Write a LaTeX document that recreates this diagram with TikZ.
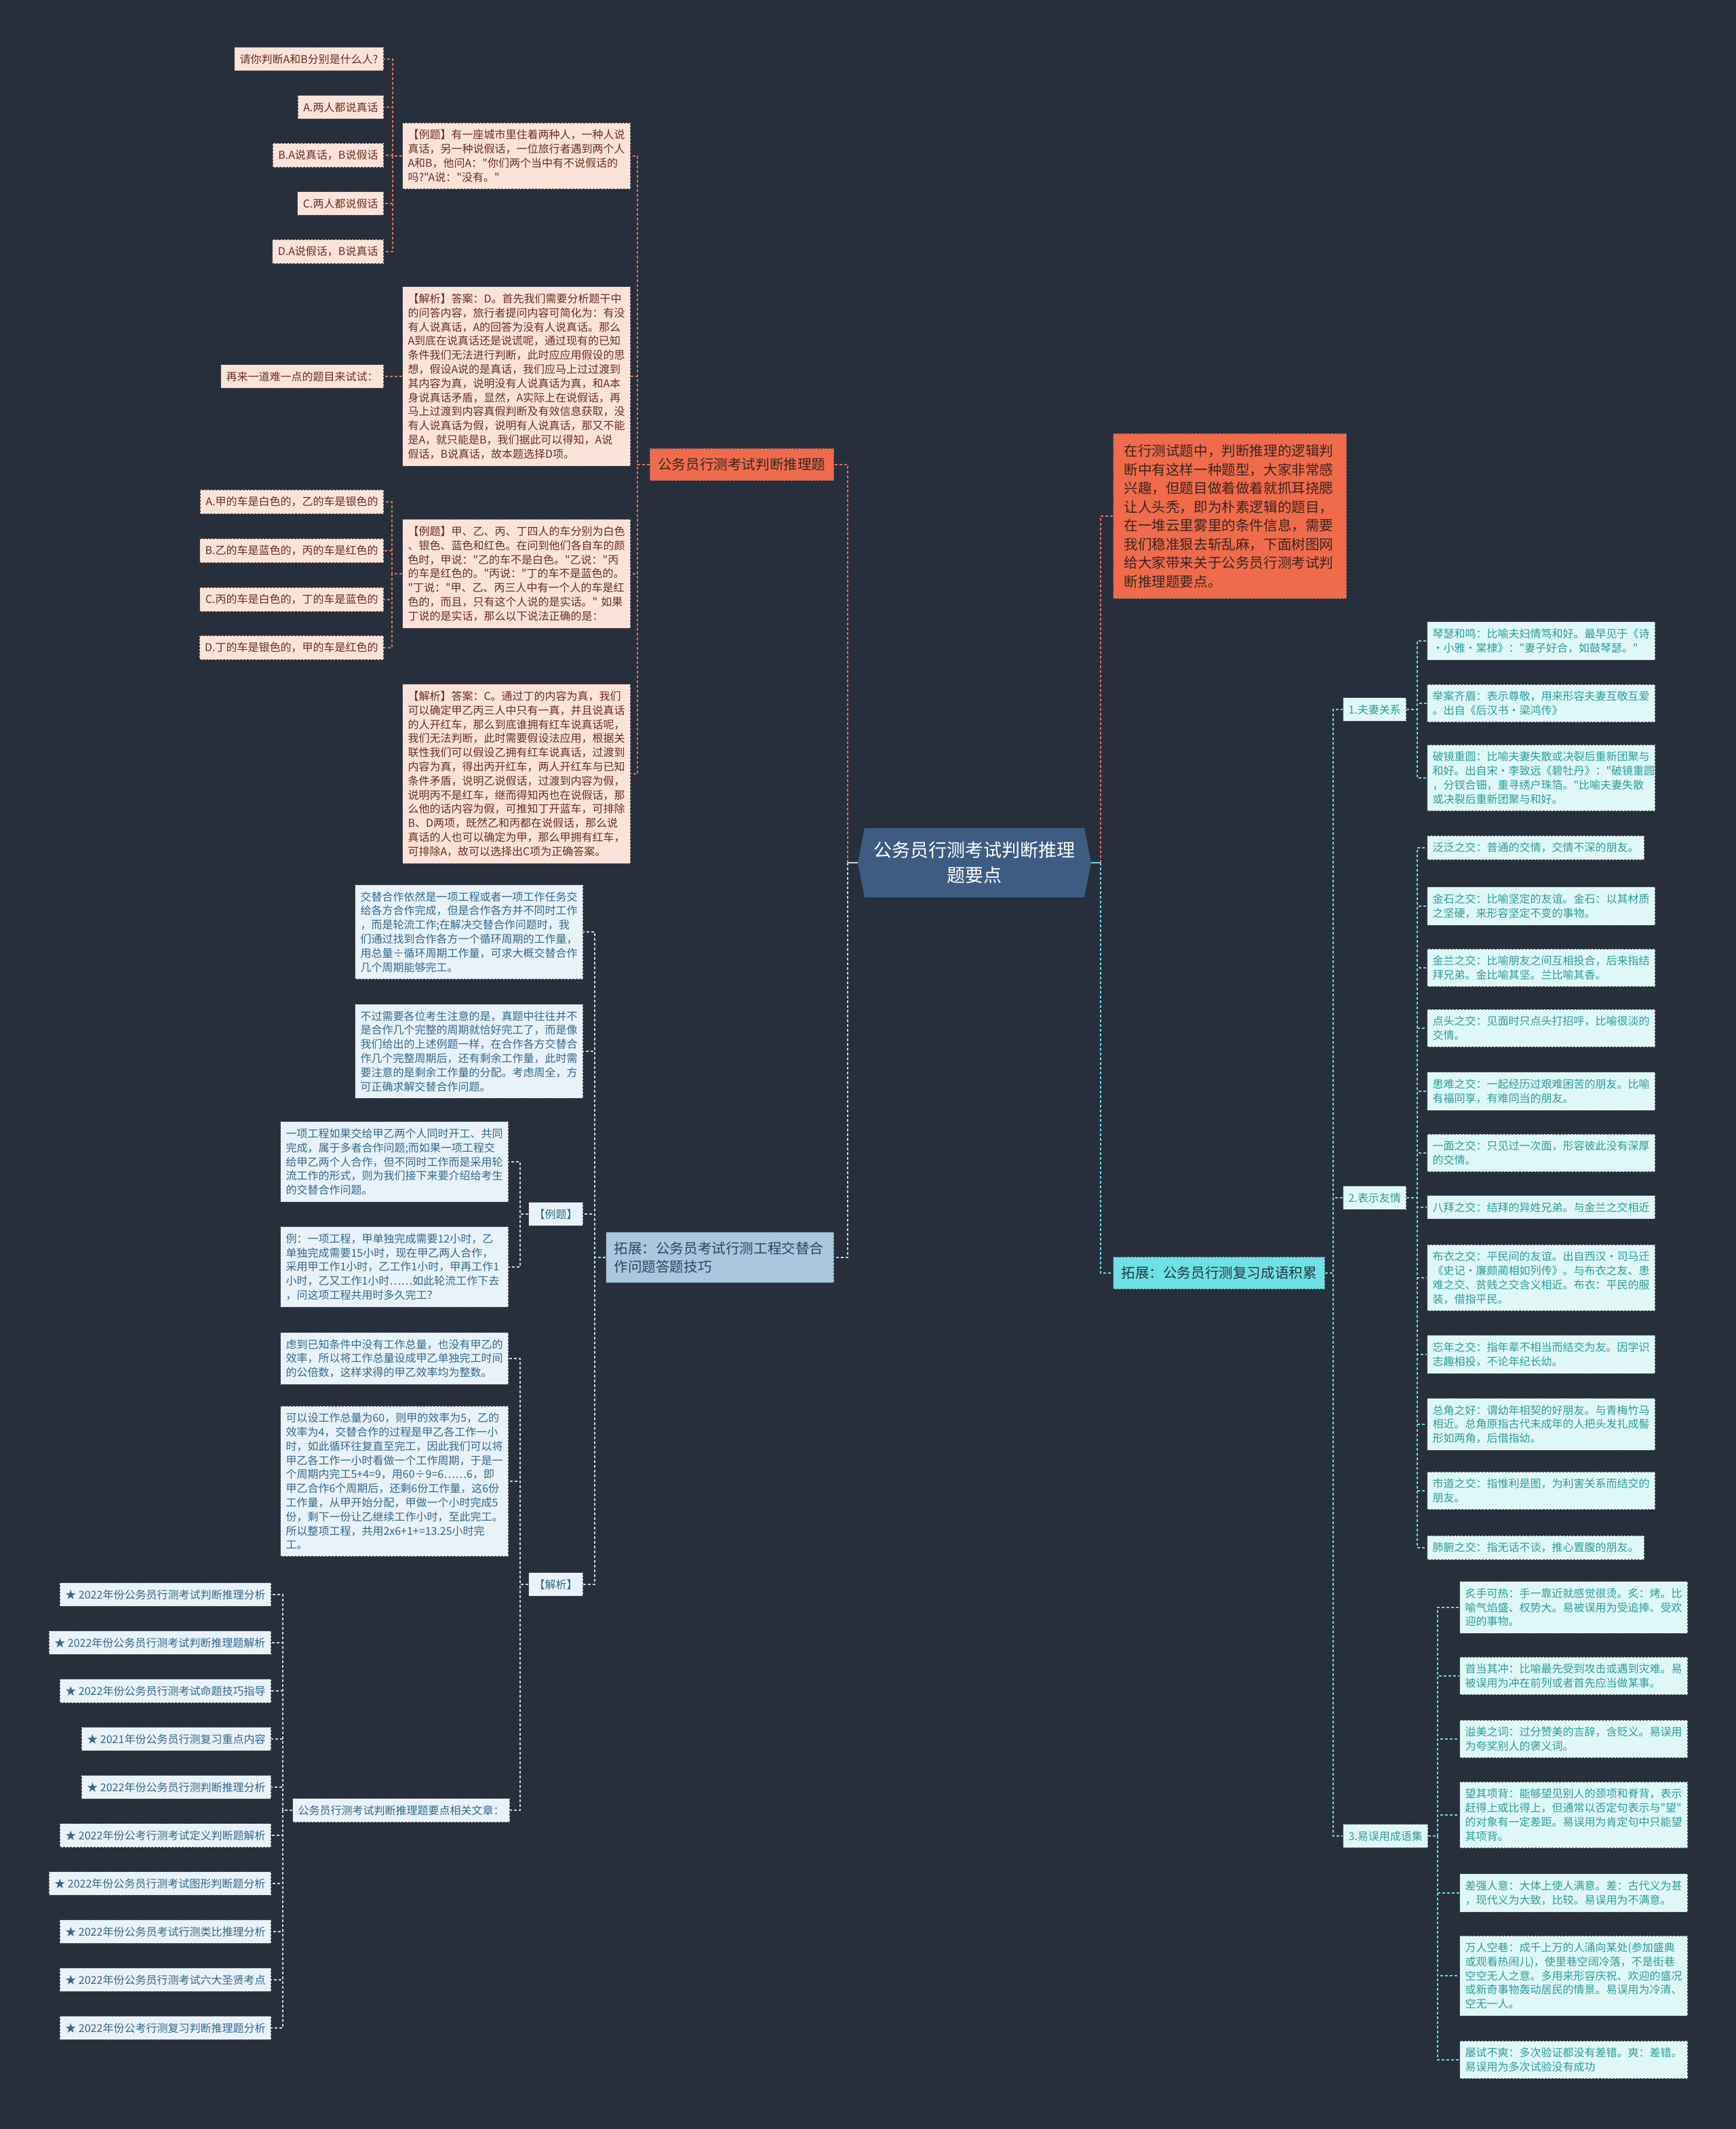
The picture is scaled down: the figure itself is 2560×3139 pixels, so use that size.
\documentclass[tikz,border=0pt]{standalone}
\usepackage{fontspec}
\setmainfont{Noto Sans CJK SC}[Ligatures=TeXOff]
\usetikzlibrary{shapes.symbols}
\definecolor{bg}{HTML}{272F3D}
\definecolor{pinkfill}{HTML}{FCE3D9}
\definecolor{pinktext}{HTML}{6B2E1F}
\definecolor{orangefill}{HTML}{EF6B4C}
\definecolor{orangeline}{HTML}{E3714F}
\definecolor{introtext}{HTML}{3A2520}
\definecolor{bluefill}{HTML}{E9F2F8}
\definecolor{bluetext}{HTML}{2F6990}
\definecolor{btwofill}{HTML}{A9C7DF}
\definecolor{btwotext}{HTML}{2A4660}
\definecolor{blueline}{HTML}{C5D8E8}
\definecolor{tealfill}{HTML}{DFF7F7}
\definecolor{tealtext}{HTML}{2A9D9B}
\definecolor{cyanfill}{HTML}{6FE0E4}
\definecolor{cyantext}{HTML}{20393E}
\definecolor{cyanline}{HTML}{6ADCE3}
\definecolor{boxline}{HTML}{505050}
\definecolor{rootfill}{HTML}{3E5C81}
\begin{document}
\begin{tikzpicture}[x=0.5pt,y=-0.5pt,
  box/.style={draw=boxline, dash pattern=on 1.5pt off 1pt, line width=0.5pt,
    inner xsep=4pt, inner ysep=5pt, font=\fontsize{8}{10.4}\selectfont, align=left},
  pinkbox/.style={box, fill=pinkfill, text=pinktext},
  bluebox/.style={box, fill=bluefill, text=bluetext},
  tealbox/.style={box, fill=tealfill, text=tealtext},
  wide/.style={text width=160pt},
  bignode/.style={draw=boxline, dash pattern=on 1.5pt off 1pt, line width=0.5pt,
    inner xsep=6pt, inner ysep=7pt, font=\fontsize{10.3}{13.75}\selectfont, align=left},
  oline/.style={draw=orangeline, line width=1pt, dash pattern=on 2pt off 1.5pt},
  bline/.style={draw=blueline, line width=1pt, dash pattern=on 2pt off 1.5pt},
  cline/.style={draw=cyanline, line width=1pt, dash pattern=on 2pt off 1.5pt},
  lsolid/.style={draw=blueline, line width=1pt},
  csolid/.style={draw=cyanline, line width=1pt}
]
\useasboundingbox (0,0) rectangle (2560,3139);
\fill[bg] (0,0) rectangle (2560,3139);

% root
\node[signal, signal to=west and east, signal pointer angle=158, fill=rootfill,
  minimum width=172pt, minimum height=51pt, align=center, text=white,
  font=\fontsize{13.5}{18.4}\selectfont] (root) at (1437,1272)
  {公务员行测考试判断推理\\题要点};

% ===== branch 1 =====
\node[bignode, fill=orangefill, text=introtext, anchor=east] (b1) at (1230,685) {公务员行测考试判断推理题};

\node[pinkbox, wide, anchor=east] (c1) at (930,230) {【例题】有一座城市里住着两种人，一种人说\\真话，另一种说假话，一位旅行者遇到两个人\\A和B，他问A："你们两个当中有不说假话的\\吗?"A说："没有。"};
\node[pinkbox, wide, anchor=east] (c2) at (930,555) {【解析】答案：D。首先我们需要分析题干中\\的问答内容，旅行者提问内容可简化为：有没\\有人说真话，A的回答为没有人说真话。那么\\A到底在说真话还是说谎呢，通过现有的已知\\条件我们无法进行判断，此时应应用假设的思\\想，假设A说的是真话，我们应马上过过渡到\\其内容为真，说明没有人说真话为真，和A本\\身说真话矛盾，显然，A实际上在说假话，再\\马上过渡到内容真假判断及有效信息获取，没\\有人说真话为假，说明有人说真话，那又不能\\是A，就只能是B，我们据此可以得知，A说\\假话，B说真话，故本题选择D项。};
\node[pinkbox, wide, anchor=east] (c3) at (930,846) {【例题】甲、乙、丙、丁四人的车分别为白色\\、银色、蓝色和红色。在问到他们各自车的颜\\色时，甲说："乙的车不是白色。"乙说："丙\\的车是红色的。"丙说："丁的车不是蓝色的。\\"丁说："甲、乙、丙三人中有一个人的车是红\\色的，而且，只有这个人说的是实话。"~如果\\丁说的是实话，那么以下说法正确的是：};
\node[pinkbox, wide, anchor=east] (c4) at (930,1141) {【解析】答案：C。通过丁的内容为真，我们\\可以确定甲乙丙三人中只有一真，并且说真话\\的人开红车，那么到底谁拥有红车说真话呢，\\我们无法判断，此时需要假设法应用，根据关\\联性我们可以假设乙拥有红车说真话，过渡到\\内容为真，得出丙开红车，两人开红车与已知\\条件矛盾，说明乙说假话，过渡到内容为假，\\说明丙不是红车，继而得知丙也在说假话，那\\么他的话内容为假，可推知丁开蓝车，可排除\\B、D两项，既然乙和丙都在说假话，那么说\\真话的人也可以确定为甲，那么甲拥有红车，\\可排除A，故可以选择出C项为正确答案。};

\node[pinkbox, anchor=east] (q1) at (566,87) {请你判断A和B分别是什么人?};
\node[pinkbox, anchor=east] (q2) at (566,158) {A.两人都说真话};
\node[pinkbox, anchor=east] (q3) at (566,229) {B.A说真话，B说假话};
\node[pinkbox, anchor=east] (q4) at (566,300) {C.两人都说假话};
\node[pinkbox, anchor=east] (q5) at (566,371) {D.A说假话，B说真话};
\node[pinkbox, anchor=east] (r1) at (566,555) {再来一道难一点的题目来试试：};
\node[pinkbox, anchor=east] (p1) at (566,740) {A.甲的车是白色的，乙的车是银色的};
\node[pinkbox, anchor=east] (p2) at (566,812) {B.乙的车是蓝色的，丙的车是红色的};
\node[pinkbox, anchor=east] (p3) at (566,884) {C.丙的车是白色的，丁的车是蓝色的};
\node[pinkbox, anchor=east] (p4) at (566,955) {D.丁的车是银色的，甲的车是红色的};

\draw[lsolid] (root.west) -- ++(-15,0);
\draw[oline] (root.west) ++(-15,0) |- (b1.east);
\foreach \c in {c1,c2,c3,c4} \draw[oline] (b1.west) -- ++(-18,0) |- (\c.east);
\foreach \c in {q1,q2,q3,q4,q5} \draw[oline] (c1.west) -- ++(-14,0) |- (\c.east);
\draw[oline] (c2.west) -- (r1.east);
\foreach \c in {p1,p2,p3,p4} \draw[oline] (c3.west) -- ++(-15,0) |- (\c.east);

% ===== branch 2 =====
\node[bignode, fill=btwofill, text=btwotext, text width=156pt, anchor=east] (b2) at (1230,1854) {拓展：公务员考试行测工程交替合\\作问题答题技巧};

\node[bluebox, wide, anchor=east] (d1) at (860,1374) {交替合作依然是一项工程或者一项工作任务交\\给各方合作完成，但是合作各方并不同时工作\\，而是轮流工作;在解决交替合作问题时，我\\们通过找到合作各方一个循环周期的工作量，\\用总量÷循环周期工作量，可求大概交替合作\\几个周期能够完工。};
\node[bluebox, wide, anchor=east] (d2) at (860,1550) {不过需要各位考生注意的是，真题中往往并不\\是合作几个完整的周期就恰好完工了，而是像\\我们给出的上述例题一样，在合作各方交替合\\作几个完整周期后，还有剩余工作量，此时需\\要注意的是剩余工作量的分配。考虑周全，方\\可正确求解交替合作问题。};
\node[bluebox, anchor=east] (dex) at (860,1790) {【例题】};
\node[bluebox, anchor=east] (djx) at (860,2336) {【解析】};

\node[bluebox, wide, anchor=east] (e1) at (750,1713) {一项工程如果交给甲乙两个人同时开工、共同\\完成，属于多者合作问题;而如果一项工程交\\给甲乙两个人合作，但不同时工作而是采用轮\\流工作的形式，则为我们接下来要介绍给考生\\的交替合作问题。};
\node[bluebox, wide, anchor=east] (e2) at (750,1868) {例：一项工程，甲单独完成需要12小时，乙\\单独完成需要15小时，现在甲乙两人合作，\\采用甲工作1小时，乙工作1小时，甲再工作1\\小时，乙又工作1小时……如此轮流工作下去\\，问这项工程共用时多久完工？};

\node[bluebox, wide, anchor=east] (f1) at (750,2003) {虑到已知条件中没有工作总量，也没有甲乙的\\效率，所以将工作总量设成甲乙单独完工时间\\的公倍数，这样求得的甲乙效率均为整数。};
\node[bluebox, wide, anchor=east] (f2) at (750,2184) {可以设工作总量为60，则甲的效率为5，乙的\\效率为4，交替合作的过程是甲乙各工作一小\\时，如此循环往复直至完工，因此我们可以将\\甲乙各工作一小时看做一个工作周期，于是一\\个周期内完工5+4=9，用60÷9=6……6，即\\甲乙合作6个周期后，还剩6份工作量，这6份\\工作量，从甲开始分配，甲做一个小时完成5\\份，剩下一份让乙继续工作小时，至此完工。\\所以整项工程，共用2x6+1+=13.25小时完\\工。};
\node[bluebox, anchor=east] (f3) at (752,2669) {公务员行测考试判断推理题要点相关文章：};

\node[bluebox, anchor=east] (s1) at (400,2351) {★ 2022年份公务员行测考试判断推理分析};
\node[bluebox, anchor=east] (s2) at (400,2422) {★ 2022年份公务员行测考试判断推理题解析};
\node[bluebox, anchor=east] (s3) at (400,2493) {★ 2022年份公务员行测考试命题技巧指导};
\node[bluebox, anchor=east] (s4) at (400,2564) {★ 2021年份公务员行测复习重点内容};
\node[bluebox, anchor=east] (s5) at (400,2635) {★ 2022年份公务员行测判断推理分析};
\node[bluebox, anchor=east] (s6) at (400,2706) {★ 2022年份公考行测考试定义判断题解析};
\node[bluebox, anchor=east] (s7) at (400,2777) {★ 2022年份公务员行测考试图形判断题分析};
\node[bluebox, anchor=east] (s8) at (400,2848) {★ 2022年份公务员考试行测类比推理分析};
\node[bluebox, anchor=east] (s9) at (400,2919) {★ 2022年份公务员行测考试六大圣贤考点};
\node[bluebox, anchor=east] (s10) at (400,2990) {★ 2022年份公考行测复习判断推理题分析};

\draw[bline] (root.west) ++(-15,0) |- (b2.east);
\foreach \c in {d1,d2,dex,djx} \draw[bline] (b2.west) -- ++(-16,0) |- (\c.east);
\foreach \c in {e1,e2} \draw[bline] (dex.west) -- ++(-12,0) |- (\c.east);
\foreach \c in {f1,f2,f3} \draw[bline] (djx.west) -- ++(-12,0) |- (\c.east);
\foreach \c in {s1,s2,s3,s4,s5,s6,s7,s8,s9,s10} \draw[bline] (f3.west) -- ++(-14,0) |- (\c.east);

% ===== right side =====
\node[bignode, fill=orangefill, text=introtext, text width=156pt, inner xsep=8pt, inner ysep=8pt, anchor=west] (intro) at (1641,761) {在行测试题中，判断推理的逻辑判\\断中有这样一种题型，大家非常感\\兴趣，但题目做着做着就抓耳挠腮\\让人头秃，即为朴素逻辑的题目，\\在一堆云里雾里的条件信息，需要\\我们稳准狠去斩乱麻，下面树图网\\给大家带来关于公务员行测考试判\\断推理题要点。};
\node[bignode, fill=cyanfill, text=cyantext, anchor=west] (b3) at (1641,1877) {拓展：公务员行测复习成语积累};

\draw[csolid] (root.east) -- ++(14,0);
\draw[oline] (root.east) ++(14,0) |- (intro.west);
\draw[cline] (root.east) ++(14,0) |- (b3.west);

\node[tealbox, anchor=west] (g1) at (1980,1046) {1.夫妻关系};
\node[tealbox, anchor=west] (g2) at (1980,1766) {2.表示友情};
\node[tealbox, anchor=west] (g3) at (1980,2707) {3.易误用成语集};
\foreach \c in {g1,g2,g3} \draw[cline] (b3.east) -- ++(12,0) |- (\c.west);

\node[tealbox, wide, anchor=west] (h1) at (2104,945) {琴瑟和鸣：比喻夫妇情笃和好。最早见于《诗\\·小雅·棠棣》："妻子好合，如鼓琴瑟。"};
\node[tealbox, wide, anchor=west] (h2) at (2104,1037) {举案齐眉：表示尊敬，用来形容夫妻互敬互爱\\。出自《后汉书·梁鸿传》};
\node[tealbox, wide, anchor=west] (h3) at (2104,1147) {破镜重圆：比喻夫妻失散或决裂后重新团聚与\\和好。出自宋·李致远《碧牡丹》："破镜重圆\\，分钗合钿，重寻绣户珠箔。"比喻夫妻失散\\或决裂后重新团聚与和好。};
\foreach \c in {h1,h2,h3} \draw[cline] (g1.east) -- ++(16,0) |- (\c.west);

\node[tealbox, anchor=west] (k1) at (2104,1250) {泛泛之交：普通的交情，交情不深的朋友。};
\node[tealbox, wide, anchor=west] (k2) at (2104,1336) {金石之交：比喻坚定的友谊。金石：以其材质\\之坚硬，来形容坚定不变的事物。};
\node[tealbox, wide, anchor=west] (k3) at (2104,1427) {金兰之交：比喻朋友之间互相投合，后来指结\\拜兄弟。金比喻其坚。兰比喻其香。};
\node[tealbox, wide, anchor=west] (k4) at (2104,1516) {点头之交：见面时只点头打招呼，比喻很淡的\\交情。};
\node[tealbox, wide, anchor=west] (k5) at (2104,1609) {患难之交：一起经历过艰难困苦的朋友。比喻\\有福同享，有难同当的朋友。};
\node[tealbox, wide, anchor=west] (k6) at (2104,1700) {一面之交：只见过一次面，形容彼此没有深厚\\的交情。};
\node[tealbox, wide, anchor=west] (k7) at (2104,1780) {八拜之交：结拜的异姓兄弟。与金兰之交相近};
\node[tealbox, wide, anchor=west] (k8) at (2104,1884) {布衣之交：平民间的友谊。出自西汉·司马迁\\《史记·廉颇蔺相如列传》。与布衣之友、患\\难之交、贫贱之交含义相近。布衣：平民的服\\装，借指平民。};
\node[tealbox, wide, anchor=west] (k9) at (2104,1997) {忘年之交：指年辈不相当而结交为友。因学识\\志趣相投，不论年纪长幼。};
\node[tealbox, wide, anchor=west] (k10) at (2104,2100) {总角之好：谓幼年相契的好朋友。与青梅竹马\\相近。总角原指古代未成年的人把头发扎成髻\\形如两角，后借指幼。};
\node[tealbox, wide, anchor=west] (k11) at (2104,2198) {市道之交：指惟利是图，为利害关系而结交的\\朋友。};
\node[tealbox, anchor=west] (k12) at (2104,2282) {肺腑之交：指无话不谈，推心置腹的朋友。};
\foreach \c in {k1,k2,k3,k4,k5,k6,k7,k8,k9,k10,k11,k12} \draw[cline] (g2.east) -- ++(16,0) |- (\c.west);

\node[tealbox, wide, anchor=west] (m1) at (2152,2370) {炙手可热：手一靠近就感觉很烫。炙：烤。比\\喻气焰盛、权势大。易被误用为受追捧、受欢\\迎的事物。};
\node[tealbox, wide, anchor=west] (m2) at (2152,2471) {首当其冲：比喻最先受到攻击或遇到灾难。易\\被误用为冲在前列或者首先应当做某事。};
\node[tealbox, wide, anchor=west] (m3) at (2152,2564) {溢美之词：过分赞美的言辞，含贬义。易误用\\为夸奖别人的褒义词。};
\node[tealbox, wide, anchor=west] (m4) at (2152,2676) {望其项背：能够望见别人的颈项和脊背，表示\\赶得上或比得上，但通常以否定句表示与"望"\\的对象有一定差距。易误用为肯定句中只能望\\其项背。};
\node[tealbox, wide, anchor=west] (m5) at (2152,2791) {差强人意：大体上使人满意。差：古代义为甚\\，现代义为大致，比较。易误用为不满意。};
\node[tealbox, wide, anchor=west] (m6) at (2152,2913) {万人空巷：成千上万的人涌向某处(参加盛典\\或观看热闹儿)，使里巷空阔冷落，不是街巷\\空空无人之意。多用来形容庆祝、欢迎的盛况\\或新奇事物轰动居民的情景。易误用为冷清、\\空无一人。};
\node[tealbox, wide, anchor=west] (m7) at (2152,3037) {屡试不爽：多次验证都没有差错。爽：差错。\\易误用为多次试验没有成功};
\foreach \c in {m1,m2,m3,m4,m5,m6,m7} \draw[cline] (g3.east) -- ++(14,0) |- (\c.west);
\end{tikzpicture}
\end{document}
